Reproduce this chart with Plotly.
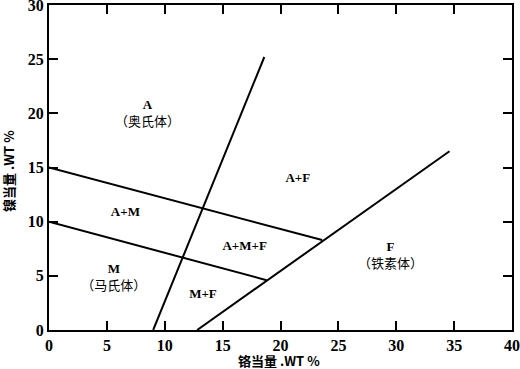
import plotly.graph_objects as go

# boundary lines (Cr eq, Ni eq)
line1_x = [0, 23.6]
line1_y = [15, 8.3]
line2_x = [0, 18.8]
line2_y = [10, 4.6]
line3_x = [9.0, 18.6]
line3_y = [0, 25.2]
line4_x = [12.8, 34.6]
line4_y = [0, 16.5]

label_text = ["<b>A</b><br>（奥氏体）", "<b>A+F</b>", "<b>A+M</b>", "<b>A+M+F</b>",
              "<b>M</b><br>（马氏体）", "<b>M+F</b>", "<b>F</b><br>（铁素体）"]
label_x = [8.5, 21.5, 6.6, 16.9, 5.6, 13.3, 29.5]
label_y = [19.9, 14.0, 10.8, 7.7, 4.8, 3.3, 6.8]

x_ticks = [0, 5, 10, 15, 20, 25, 30, 35, 40]
y_ticks = [0, 5, 10, 15, 20, 25, 30]
x_title = "<b>铬当量 .WT %</b>"
y_title = "<b>镍当量 .WT %</b>"

fig = go.Figure()
for xs, ys in [(line1_x, line1_y), (line2_x, line2_y), (line3_x, line3_y), (line4_x, line4_y)]:
    fig.add_trace(go.Scatter(x=xs, y=ys, mode="lines",
                             line=dict(color="black", width=2), showlegend=False,
                             hoverinfo="skip"))

fig.add_trace(go.Scatter(x=label_x, y=label_y, mode="text", text=label_text,
                         textfont=dict(family="Liberation Serif, Noto Sans CJK SC", size=13, color="black"),
                         showlegend=False, hoverinfo="skip"))

axis_common = dict(showgrid=False, zeroline=False, showline=True, linecolor="black",
                   linewidth=2, ticks="inside", ticklen=9, tickwidth=2, tickcolor="black",
                   mirror="ticks", automargin=False, ticklabeloverflow="allow",
                   tickfont=dict(family="Liberation Serif", size=16, color="black", weight="bold"))

fig.update_xaxes(range=[0, 40], tickvals=x_ticks, **axis_common)
fig.update_yaxes(range=[0, 30], tickvals=y_ticks, **axis_common)

title_font = dict(family="Noto Sans CJK SC, Liberation Serif", size=13, color="black")
fig.add_annotation(text=x_title, xref="paper", yref="paper", x=0.497, y=-0.093,
                   xanchor="center", yanchor="middle", showarrow=False, font=title_font)
fig.add_annotation(text=y_title, xref="paper", yref="paper", x=-0.088, y=0.49,
                   xanchor="center", yanchor="middle", showarrow=False, textangle=-90,
                   font=title_font)

fig.update_layout(width=520, height=369, margin=dict(l=49, r=8, t=5, b=39),
                  plot_bgcolor="white", paper_bgcolor="white")

fig.write_html("out.html", config={"displayModeBar": False},
               post_script="document.body.style.margin='0';document.body.style.overflow='hidden';")
